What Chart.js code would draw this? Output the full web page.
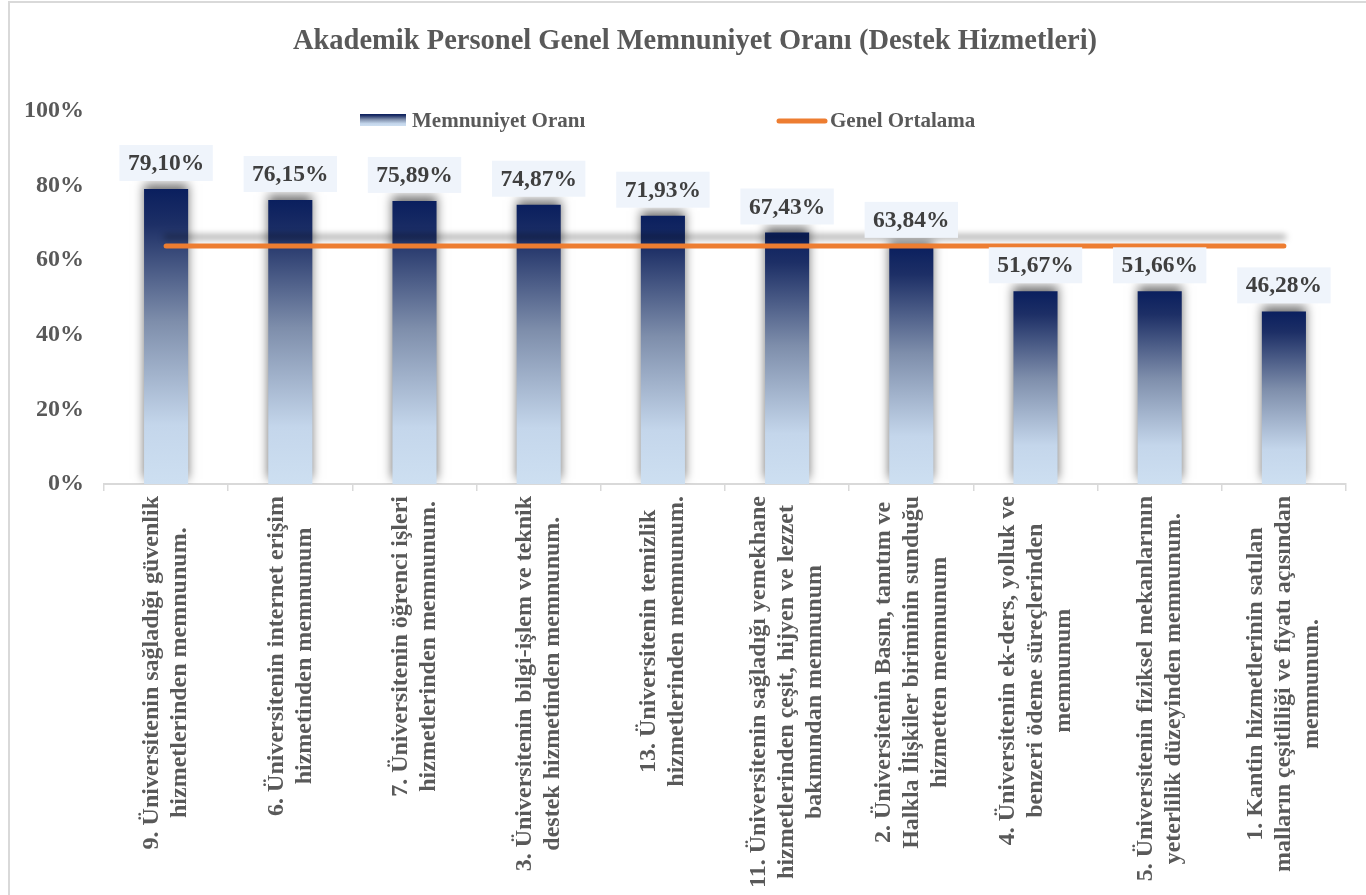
<!DOCTYPE html>
<html lang="tr">
<head>
<meta charset="utf-8">
<title>Akademik Personel Genel Memnuniyet Oranı</title>
<script src="https://cdn.jsdelivr.net/npm/chart.js@4.4.1/dist/chart.umd.min.js"></script>
<style>
    html, body { margin: 0; padding: 0; background: #ffffff; overflow: hidden; }
    #kutu { width: 1366px; height: 895px; position: relative; }
</style>
</head>
<body>
<div id="kutu"><canvas id="grafik" width="1366" height="895"></canvas></div>
<script>
const baslik = 'Akademik Personel Genel Memnuniyet Oranı (Destek Hizmetleri)';
const kategoriler = [
    ['9. Üniversitenin sağladığı güvenlik', 'hizmetlerinden memnunum.'],
    ['6. Üniversitenin internet erişim', 'hizmetinden memnunum'],
    ['7. Üniversitenin öğrenci işleri', 'hizmetlerinden memnunum.'],
    ['3. Üniversitenin bilgi-işlem ve teknik', 'destek hizmetinden memnunum.'],
    ['13. Üniversitenin temizlik', 'hizmetlerinden memnunum.'],
    ['11. Üniversitenin sağladığı yemekhane', 'hizmetlerinden çeşit, hijyen ve lezzet', 'bakımından memnunum'],
    ['2. Üniversitenin Basın, tanıtım ve', 'Halkla İlişkiler biriminin sunduğu', 'hizmetten memnunum'],
    ['4. Üniversitenin ek-ders, yolluk ve', 'benzeri ödeme süreçlerinden', 'memnunum'],
    ['5. Üniversitenin fiziksel mekanlarının', 'yeterlilik düzeyinden memnunum.'],
    ['1. Kantin hizmetlerinin satılan', 'malların çeşitliliği ve fiyatı açısından', 'memnunum.']
];
const memnuniyetOrani = [79.10, 76.15, 75.89, 74.87, 71.93, 67.43, 63.84, 51.67, 51.66, 46.28];
const genelOrtalama = [63.84, 63.84, 63.84, 63.84, 63.84, 63.84, 63.84, 63.84, 63.84, 63.84];
const yEtiketleri = [0, 20, 40, 60, 80, 100];

const FONT = '"Liberation Serif", "Times New Roman", serif';
const GRI = '#595959';
const TURUNCU = '#ed7d31';

function degradeYap(ctx, y0, y1) {
    const g = ctx.createLinearGradient(0, y0, 0, y1);
    g.addColorStop(0, '#0a1f5e');
    g.addColorStop(0.12, '#1d2f66');
    g.addColorStop(0.45, '#7e8eab');
    g.addColorStop(0.8, '#c4d6eb');
    g.addColorStop(1, '#cddff1');
    return g;
}

function yuzde(v) {
    return v.toFixed(2).replace('.', ',') + '%';
}

const golgeEklentisi = {
    id: 'golge',
    beforeDatasetDraw(chart, args) {
        const ctx = chart.ctx;
        ctx.save();
        if (args.meta.type === 'bar') {
            ctx.shadowColor = 'rgba(0,0,0,0.55)';
            ctx.shadowBlur = 10;
            ctx.shadowOffsetY = -5;
        } else {
            ctx.shadowColor = 'rgba(0,0,0,0.35)';
            ctx.shadowBlur = 6;
            ctx.shadowOffsetY = -9;
        }
    },
    afterDatasetDraw(chart) {
        chart.ctx.restore();
    }
};

const cerceveEklentisi = {
    id: 'cerceve',
    beforeDraw(chart) {
        const ctx = chart.ctx;
        ctx.save();
        ctx.fillStyle = '#ffffff';
        ctx.fillRect(0, 0, chart.width, chart.height);
        ctx.strokeStyle = '#d9d9d9';
        ctx.lineWidth = 2;
        ctx.strokeRect(9, 2, chart.width + 20, chart.height + 20);
        ctx.restore();
    }
};

const yaziEklentisi = {
    id: 'yazilar',
    afterDatasetsDraw(chart) {
        const ctx = chart.ctx;
        const meta = chart.getDatasetMeta(1);
        ctx.save();
        ctx.font = 'bold 23.5px ' + FONT;
        ctx.textAlign = 'center';
        ctx.textBaseline = 'middle';
        meta.data.forEach((bar, i) => {
            const metin = yuzde(memnuniyetOrani[i]);
            const w = ctx.measureText(metin).width + 17;
            const h = 36;
            const alt = bar.y - 8;
            ctx.fillStyle = '#eff4fb';
            ctx.fillRect(bar.x - w / 2, alt - h, w, h);
            ctx.fillStyle = '#3f3f3f';
            ctx.fillText(metin, bar.x, alt - h / 2 + 1);
        });
        ctx.restore();
    },
    afterDraw(chart) {
        const ctx = chart.ctx;
        const x = chart.scales.x;
        ctx.save();
        // baslik
        ctx.fillStyle = GRI;
        ctx.font = 'bold 28.5px ' + FONT;
        ctx.textAlign = 'center';
        ctx.textBaseline = 'middle';
        ctx.fillText(baslik, 695, 42);

        // lejant
        ctx.fillStyle = degradeYap(ctx, 114, 126);
        ctx.fillRect(360, 114, 46, 12);
        ctx.strokeStyle = TURUNCU;
        ctx.lineWidth = 5;
        ctx.lineCap = 'round';
        ctx.beginPath();
        ctx.moveTo(779, 121);
        ctx.lineTo(825, 121);
        ctx.stroke();
        ctx.fillStyle = GRI;
        ctx.font = 'bold 21px ' + FONT;
        ctx.textAlign = 'left';
        ctx.fillText('Memnuniyet Oranı', 412, 122);
        ctx.fillText('Genel Ortalama', 830, 122);

        // x ekseni etiketleri (dikey)
        ctx.font = 'bold 24px ' + FONT;
        ctx.textAlign = 'center';
        ctx.textBaseline = 'middle';
        const satir = 28;
        kategoriler.forEach((satirlar, i) => {
            const cx = x.getPixelForValue(i);
            const enUzun = Math.max(...satirlar.map(s => ctx.measureText(s).width));
            ctx.save();
            ctx.translate(cx, x.top + 12);
            ctx.rotate(-Math.PI / 2);
            satirlar.forEach((s, j) => {
                ctx.fillText(s, -enUzun / 2, (j - (satirlar.length - 1) / 2) * satir);
            });
            ctx.restore();
        });
        ctx.restore();
    }
};

document.addEventListener('DOMContentLoaded', () => {
    const ctx = document.getElementById('grafik').getContext('2d');
    new Chart(ctx, {
        data: {
            labels: kategoriler,
            datasets: [
                {
                    type: 'line',
                    label: 'Genel Ortalama',
                    data: genelOrtalama,
                    borderColor: TURUNCU,
                    borderWidth: 5,
                    borderCapStyle: 'round',
                    pointRadius: 0,
                    fill: false,
                    order: 0
                },
                {
                    type: 'bar',
                    label: 'Memnuniyet Oranı',
                    data: memnuniyetOrani,
                    backgroundColor: (c) => {
                        const chart = c.chart;
                        if (!chart.chartArea || c.type !== 'data') return '#1d2f66';
                        const y = chart.scales.y;
                        return degradeYap(chart.ctx, y.getPixelForValue(c.raw), y.getPixelForValue(0));
                    },
                    barPercentage: 0.355,
                    categoryPercentage: 1,
                    order: 1
                }
            ]
        },
        options: {
            responsive: false,
            animation: false,
            events: [],
            layout: { padding: { top: 111, right: 20, left: 0, bottom: 0 } },
            plugins: {
                legend: { display: false },
                title: { display: false },
                tooltip: { enabled: false }
            },
            scales: {
                x: {
                    offset: true,
                    ticks: { display: false },
                    grid: {
                        offset: true,
                        drawOnChartArea: false,
                        drawTicks: true,
                        tickLength: 7,
                        color: '#d9d9d9',
                        lineWidth: 1.5
                    },
                    border: { color: '#d9d9d9', width: 2 },
                    afterFit: (s) => { s.height = 411; }
                },
                y: {
                    min: 0,
                    max: 100,
                    afterBuildTicks: (s) => { s.ticks = yEtiketleri.map(v => ({ value: v })); },
                    ticks: {
                        padding: 12,
                        color: GRI,
                        font: { family: FONT, size: 24, weight: 'bold' },
                        callback: (v) => v + '%'
                    },
                    grid: { display: false },
                    border: { display: false },
                    afterFit: (s) => { s.width = 104; }
                }
            }
        },
        plugins: [cerceveEklentisi, golgeEklentisi, yaziEklentisi]
    });
});
</script>
</body>
</html>
